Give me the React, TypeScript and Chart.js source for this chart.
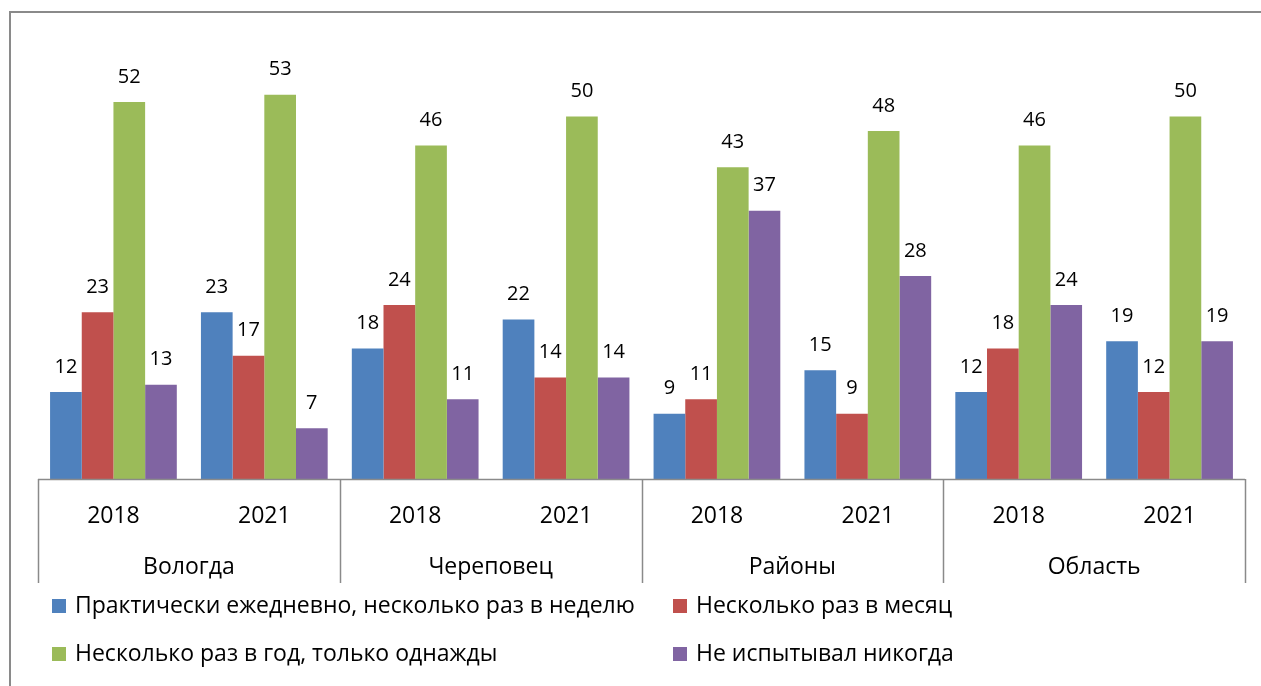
import React, { useEffect, useRef } from "react";
import { Chart, registerables } from "chart.js";

Chart.register(...registerables);

const categories = ["2018", "2021", "2018", "2021", "2018", "2021", "2018", "2021"];
const groups = ["Вологда", "Череповец", "Районы", "Область"];

const seriesNames = [
  "Практически ежедневно, несколько раз в неделю",
  "Несколько раз в месяц",
  "Несколько раз в год, только однажды",
  "Не испытывал никогда",
];
const seriesColors = ["#4F81BD", "#C0504D", "#9BBB59", "#8064A2"];

const dailyWeekly = [12, 23, 18, 22, 9, 15, 12, 19];
const monthly = [23, 17, 24, 14, 11, 9, 18, 12];
const yearlyOnce = [52, 53, 46, 50, 43, 48, 46, 50];
const never = [13, 7, 11, 14, 37, 28, 24, 19];

const seriesValues = [dailyWeekly, monthly, yearlyOnce, never];

const FONT = '"Open Sans", "DejaVu Sans", sans-serif';
const FS_LABEL = 20;
const FS = 23;

const overlay = {
  id: "overlay",
  afterDraw(chart: any) {
    const ctx = chart.ctx as CanvasRenderingContext2D;
    const xs = chart.scales.x;
    ctx.save();
    // outer border
    ctx.strokeStyle = "#8a8a8a";
    ctx.lineWidth = 2;
    ctx.strokeRect(10, 12, 1300, 720);

    // data labels
    ctx.fillStyle = "#000";
    ctx.font = `${FS_LABEL}px ${FONT}`;
    ctx.textAlign = "center";
    ctx.textBaseline = "middle";
    chart.data.datasets.forEach((ds: any, i: number) => {
      const meta = chart.getDatasetMeta(i);
      meta.data.forEach((bar: any, j: number) => {
        ctx.fillText(String(ds.data[j]), bar.x, bar.y - 25);
      });
    });

    // axis line and separators
    const left = xs.left;
    const right = xs.right;
    const base = chart.chartArea.bottom;
    const n = categories.length;
    const cw = (right - left) / n;
    ctx.strokeStyle = "#8a8a8a";
    ctx.lineWidth = 1.5;
    ctx.beginPath();
    ctx.moveTo(left, base + 0.5);
    ctx.lineTo(right, base + 0.5);
    for (let k = 0; k <= n; k += 2) {
      const px = Math.round(left + k * cw) + 0.5;
      ctx.moveTo(px, base);
      ctx.lineTo(px, base + 104);
    }
    ctx.stroke();

    // category labels
    ctx.font = `${FS}px ${FONT}`;
    ctx.fillStyle = "#000";
    categories.forEach((c, i) => {
      ctx.fillText(c, xs.getPixelForValue(i), base + 37);
    });
    groups.forEach((g, gi) => {
      const cx = left + (gi * 2 + 1) * cw;
      ctx.fillText(g, cx, base + 88);
    });

    // legend
    const cols = [52, 673];
    const rows = [606, 654];
    ctx.textAlign = "left";
    seriesNames.forEach((name, i) => {
      const col = cols[i % 2];
      const row = rows[Math.floor(i / 2)];
      ctx.fillStyle = seriesColors[i];
      ctx.fillRect(col, row - 7, 14, 14);
      ctx.fillStyle = "#000";
      ctx.fillText(name, col + 23, row);
    });
    ctx.restore();
  },
};

export default function App() {
  const ref = useRef<HTMLCanvasElement | null>(null);
  useEffect(() => {
    if (!ref.current) return;
    const chart = new Chart(ref.current, {
      type: "bar",
      data: {
        labels: categories,
        datasets: seriesNames.map((name, i) => ({
          label: name,
          data: seriesValues[i],
          backgroundColor: seriesColors[i],
          borderWidth: 0,
          categoryPercentage: 0.84,
          barPercentage: 1,
        })),
      },
      options: {
        animation: false,
        responsive: true,
        maintainAspectRatio: false,
        layout: { padding: { left: 38, right: 16, top: 44, bottom: 207 } },
        plugins: { legend: { display: false }, tooltip: { enabled: false } },
        scales: {
          x: { display: false, offset: true, grid: { display: false } },
          y: { display: false, min: 0, max: 60, grid: { display: false } },
        },
      },
      plugins: [overlay],
    });
    return () => chart.destroy();
  }, []);
  return (
    <div style={{ position: "absolute", left: 0, top: 0, width: 1261, height: 686, background: "#fff" }}>
      <canvas ref={ref} />
    </div>
  );
}
